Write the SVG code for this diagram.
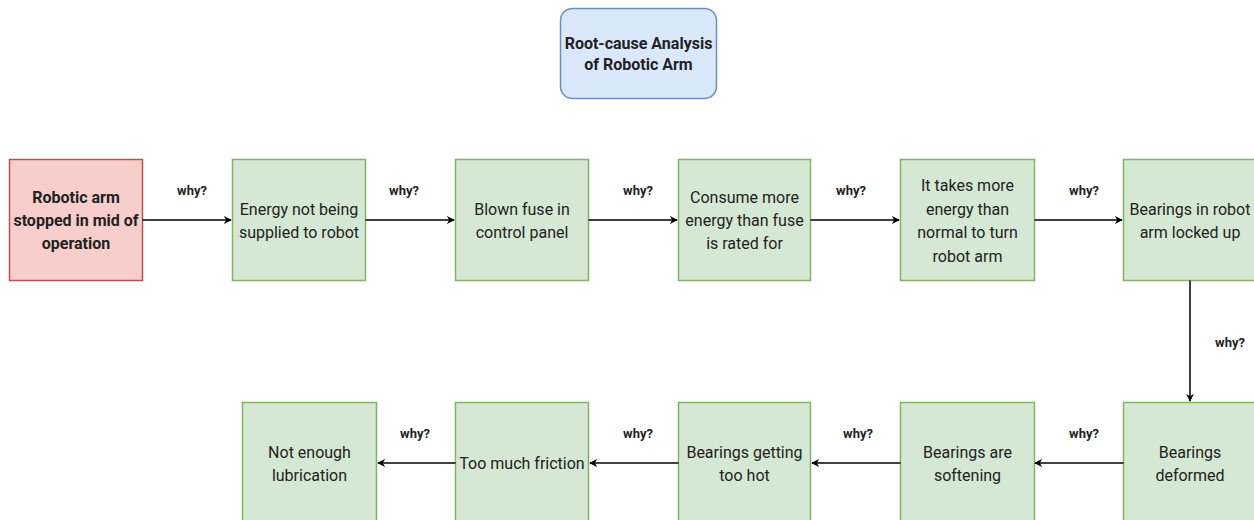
<svg xmlns="http://www.w3.org/2000/svg" width="1254" height="520" viewBox="0 0 1254 520">
  <defs>
    <marker id="arrow" viewBox="0 0 10 10" refX="9" refY="5" markerWidth="8" markerHeight="8" markerUnits="userSpaceOnUse" orient="auto">
      <path d="M0,0 L10,5 L0,10 L3,5 Z" fill="#000"/>
    </marker>
    <style>
      .cause { fill: #d5e8d4; stroke: #82b366; stroke-width: 1.5; }
      .problem { fill: #f8cecc; stroke: #b85450; stroke-width: 1.5; }
      .title { fill: #dae8fc; stroke: #6c8ebf; stroke-width: 1.5; }
      .txt { font-family: Roboto, "Liberation Sans", sans-serif; font-size: 16px; fill: #222; text-anchor: middle; }
      .bold { font-weight: bold; }
      .why { font-family: Roboto, "Liberation Sans", sans-serif; font-size: 13px; font-weight: bold; fill: #222; text-anchor: middle; }
      .edge { stroke: #000; stroke-width: 1.5; fill: none; marker-end: url(#arrow); }
    </style>
  </defs>
  <rect width="1254" height="520" fill="#fff"/>

  <g id="title">
    <rect class="title" x="560.5" y="8.5" width="156" height="90" rx="12"/>
    <text class="txt bold" x="638.5" y="49" font-size="15">Root-cause Analysis</text>
    <text class="txt bold" x="638.5" y="70" font-size="15">of Robotic Arm</text>
  </g>

  <g id="n1">
    <rect class="problem" x="9.5" y="159.5" width="133" height="121"/>
    <text class="txt bold" x="76" y="203">Robotic arm</text>
    <text class="txt bold" x="76" y="226">stopped in mid of</text>
    <text class="txt bold" x="76" y="249">operation</text>
  </g>
  <g id="n2">
    <rect class="cause" x="232.5" y="159.5" width="133" height="121"/>
    <text class="txt" x="299" y="215">Energy not being</text>
    <text class="txt" x="299" y="238">supplied to robot</text>
  </g>
  <g id="n3">
    <rect class="cause" x="455.5" y="159.5" width="133" height="121"/>
    <text class="txt" x="522" y="215">Blown fuse in</text>
    <text class="txt" x="522" y="238">control panel</text>
  </g>
  <g id="n4">
    <rect class="cause" x="678.5" y="159.5" width="132" height="121"/>
    <text class="txt" x="744.5" y="203">Consume more</text>
    <text class="txt" x="744.5" y="226">energy than fuse</text>
    <text class="txt" x="744.5" y="249">is rated for</text>
  </g>
  <g id="n5">
    <rect class="cause" x="900.5" y="159.5" width="134" height="121"/>
    <text class="txt" x="967.5" y="191">It takes more</text>
    <text class="txt" x="967.5" y="215">energy than</text>
    <text class="txt" x="967.5" y="238">normal to turn</text>
    <text class="txt" x="967.5" y="262">robot arm</text>
  </g>
  <g id="n6">
    <rect class="cause" x="1123.5" y="159.5" width="134" height="121"/>
    <text class="txt" x="1190" y="215">Bearings in robot</text>
    <text class="txt" x="1190" y="238">arm locked up</text>
  </g>
  <g id="n7">
    <rect class="cause" x="1123.5" y="402.5" width="134" height="121"/>
    <text class="txt" x="1190" y="458">Bearings</text>
    <text class="txt" x="1190" y="481">deformed</text>
  </g>
  <g id="n8">
    <rect class="cause" x="900.5" y="402.5" width="134" height="121"/>
    <text class="txt" x="967.5" y="458">Bearings are</text>
    <text class="txt" x="967.5" y="481">softening</text>
  </g>
  <g id="n9">
    <rect class="cause" x="678.5" y="402.5" width="132" height="121"/>
    <text class="txt" x="744.5" y="458">Bearings getting</text>
    <text class="txt" x="744.5" y="481">too hot</text>
  </g>
  <g id="n10">
    <rect class="cause" x="455.5" y="402.5" width="133" height="121"/>
    <text class="txt" x="522" y="469">Too much friction</text>
  </g>
  <g id="n11">
    <rect class="cause" x="242.5" y="402.5" width="134" height="121"/>
    <text class="txt" x="309.5" y="458">Not enough</text>
    <text class="txt" x="309.5" y="481">lubrication</text>
  </g>

  <g id="connectors">
    <path class="edge" d="M142.5,220 H231"/>
    <path class="edge" d="M365.5,220 H454"/>
    <path class="edge" d="M588.5,220 H677"/>
    <path class="edge" d="M810.5,220 H899"/>
    <path class="edge" d="M1034.5,220 H1122"/>
    <path class="edge" d="M1190,280.5 V401"/>
    <path class="edge" d="M1123.5,463 H1035"/>
    <path class="edge" d="M900.5,463 H812"/>
    <path class="edge" d="M678.5,463 H590"/>
    <path class="edge" d="M455.5,463 H378"/>
    <text class="why" x="192" y="195">why?</text>
    <text class="why" x="404" y="195">why?</text>
    <text class="why" x="638" y="195">why?</text>
    <text class="why" x="851" y="195">why?</text>
    <text class="why" x="1084" y="195">why?</text>
    <text class="why" x="1230" y="347">why?</text>
    <text class="why" x="1084" y="438">why?</text>
    <text class="why" x="858" y="438">why?</text>
    <text class="why" x="638" y="438">why?</text>
    <text class="why" x="415" y="438">why?</text>
  </g>
</svg>
